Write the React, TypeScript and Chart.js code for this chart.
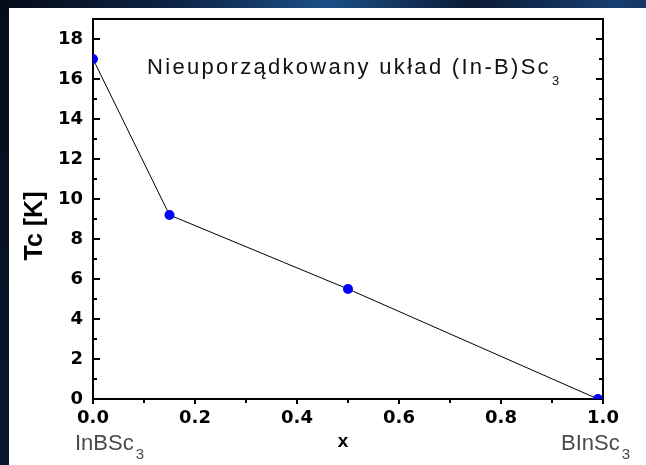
import React, { useEffect, useRef } from "react";
import { Chart, registerables } from "chart.js";

Chart.register(...registerables);

const xValues = [0.0, 0.15, 0.5, 0.99];
const tcValues = [17.0, 9.2, 5.5, 0.0];
const xTickStep = 0.2;
const yTickStep = 2;
const titleText = "Nieuporządkowany układ (In-B)Sc";
const titleSub = "3";
const yAxisTitle = "Tc [K]";
const xAxisTitle = "x";
const leftEndLabel = "InBSc";
const rightEndLabel = "BInSc";
const endSub = "3";

const framePlugin = {
  id: "framePlugin",
  beforeDatasetsDraw(chart: any) {
    const { ctx, chartArea } = chart;
    const xs = chart.scales.x;
    const ys = chart.scales.y;
    const { left, right, top, bottom } = chartArea;
    ctx.save();
    ctx.strokeStyle = "#000";
    ctx.lineWidth = 2;
    ctx.strokeRect(left, top, right - left, bottom - top);
    ctx.lineWidth = 2;
    ctx.beginPath();
    for (let v = 0; v <= 19; v++) {
      const py = Math.round(ys.getPixelForValue(v));
      const len = v % 2 === 0 ? 7 : 4;
      ctx.moveTo(left, py);
      ctx.lineTo(left + len, py);
      ctx.moveTo(right, py);
      ctx.lineTo(right - len, py);
    }
    for (let i = 0; i <= 10; i++) {
      const px = Math.round(xs.getPixelForValue(i / 10));
      const len = i % 2 === 0 ? 5 : 4;
      ctx.moveTo(px, bottom);
      ctx.lineTo(px, bottom + len);
    }
    ctx.stroke();
    ctx.restore();
  },
  afterDraw(chart: any) {
    const { ctx } = chart;
    ctx.save();
    // title inside plot
    ctx.fillStyle = "#111";
    ctx.textBaseline = "alphabetic";
    ctx.textAlign = "left";
    ctx.font = "22px 'Liberation Sans', Arial, sans-serif";
    (ctx as any).letterSpacing = "2.3px";
    ctx.fillText(titleText, 138, 65.5);
    const w = ctx.measureText(titleText).width;
    (ctx as any).letterSpacing = "0px";
    ctx.font = "13px 'Liberation Sans', Arial, sans-serif";
    ctx.fillText(titleSub, 138 + w + 1, 77);

    // y axis title
    ctx.save();
    ctx.translate(33, 218);
    ctx.rotate(-Math.PI / 2);
    ctx.font = "bold 25px 'Liberation Sans', Arial, sans-serif";
    ctx.fillStyle = "#000";
    ctx.textAlign = "center";
    ctx.fillText(yAxisTitle, 0, 0);
    ctx.restore();

    // x axis title
    ctx.font = "bold 19px 'Liberation Sans', Arial, sans-serif";
    ctx.fillStyle = "#000";
    ctx.textAlign = "center";
    ctx.fillText(xAxisTitle, 334, 439);

    // end labels
    ctx.textAlign = "left";
    ctx.fillStyle = "#4a4a4a";
    ctx.font = "22px 'Liberation Sans', Arial, sans-serif";
    ctx.fillText(leftEndLabel, 66, 442);
    let lw = ctx.measureText(leftEndLabel).width;
    ctx.font = "15px 'Liberation Sans', Arial, sans-serif";
    ctx.fillText(endSub, 66 + lw + 2, 451);

    ctx.font = "22px 'Liberation Sans', Arial, sans-serif";
    ctx.fillText(rightEndLabel, 552, 442);
    lw = ctx.measureText(rightEndLabel).width;
    ctx.font = "15px 'Liberation Sans', Arial, sans-serif";
    ctx.fillText(endSub, 552 + lw + 2, 451);
    ctx.restore();
  },
};

export default function App() {
  const canvasRef = useRef<HTMLCanvasElement | null>(null);

  useEffect(() => {
    const canvas = canvasRef.current;
    if (!canvas) return;
    const tickFont = { family: "'DejaVu Sans', sans-serif", weight: "bold" as const, size: 18 };
    const chart = new Chart(canvas, {
      type: "scatter",
      data: {
        datasets: [
          {
            data: xValues.map((x, i) => ({ x, y: tcValues[i] })),
            showLine: true,
            borderColor: "#000",
            borderWidth: 1,
            pointBackgroundColor: "#0000ff",
            pointBorderColor: "#0000ff",
            pointBorderWidth: 0,
            pointRadius: 5,
          },
        ],
      },
      options: {
        animation: false,
        responsive: false,
        devicePixelRatio: 1,
        layout: { padding: { top: 11, right: 43, left: 0, bottom: 0 } },
        plugins: {
          legend: { display: false },
          tooltip: { enabled: false },
          title: { display: false },
        },
        scales: {
          x: {
            type: "linear",
            min: 0,
            max: 1,
            grid: { display: false, drawTicks: false },
            border: { display: false },
            ticks: {
              stepSize: xTickStep,
              includeBounds: false,
              autoSkip: false,
              maxRotation: 0,
              color: "#000",
              font: tickFont,
              padding: 9,
              callback: (v: any) => Number(v).toFixed(1),
            },
            afterFit: (s: any) => {
              s.height = 66;
              s.paddingLeft = 0;
              s.paddingRight = 0;
            },
          },
          y: {
            type: "linear",
            min: 0,
            max: 19,
            grid: { display: false, drawTicks: false },
            border: { display: false },
            ticks: {
              stepSize: yTickStep,
              includeBounds: false,
              autoSkip: false,
              color: "#000",
              font: tickFont,
              padding: 10,
              callback: (v: any) => String(v),
            },
            afterFit: (s: any) => {
              s.width = 84;
              s.paddingTop = 0;
              s.paddingBottom = 0;
            },
          },
        },
      },
      plugins: [framePlugin],
    });
    return () => chart.destroy();
  }, []);

  return (
    <div
      style={{
        position: "fixed",
        inset: 0,
        background:
          "linear-gradient(100deg, #050b18 0%, #0d2547 25%, #1b4f86 45%, #0a1a35 65%, #183f70 85%, #0a1830 100%)",
        overflow: "hidden",
      }}
    >
      <div
        style={{
          position: "absolute",
          left: 9,
          top: 8,
          width: 637,
          height: 457,
          background: "#fff",
        }}
      >
        <canvas ref={canvasRef} width={637} height={457} style={{ width: 637, height: 457, display: "block" }} />
      </div>
    </div>
  );
}
